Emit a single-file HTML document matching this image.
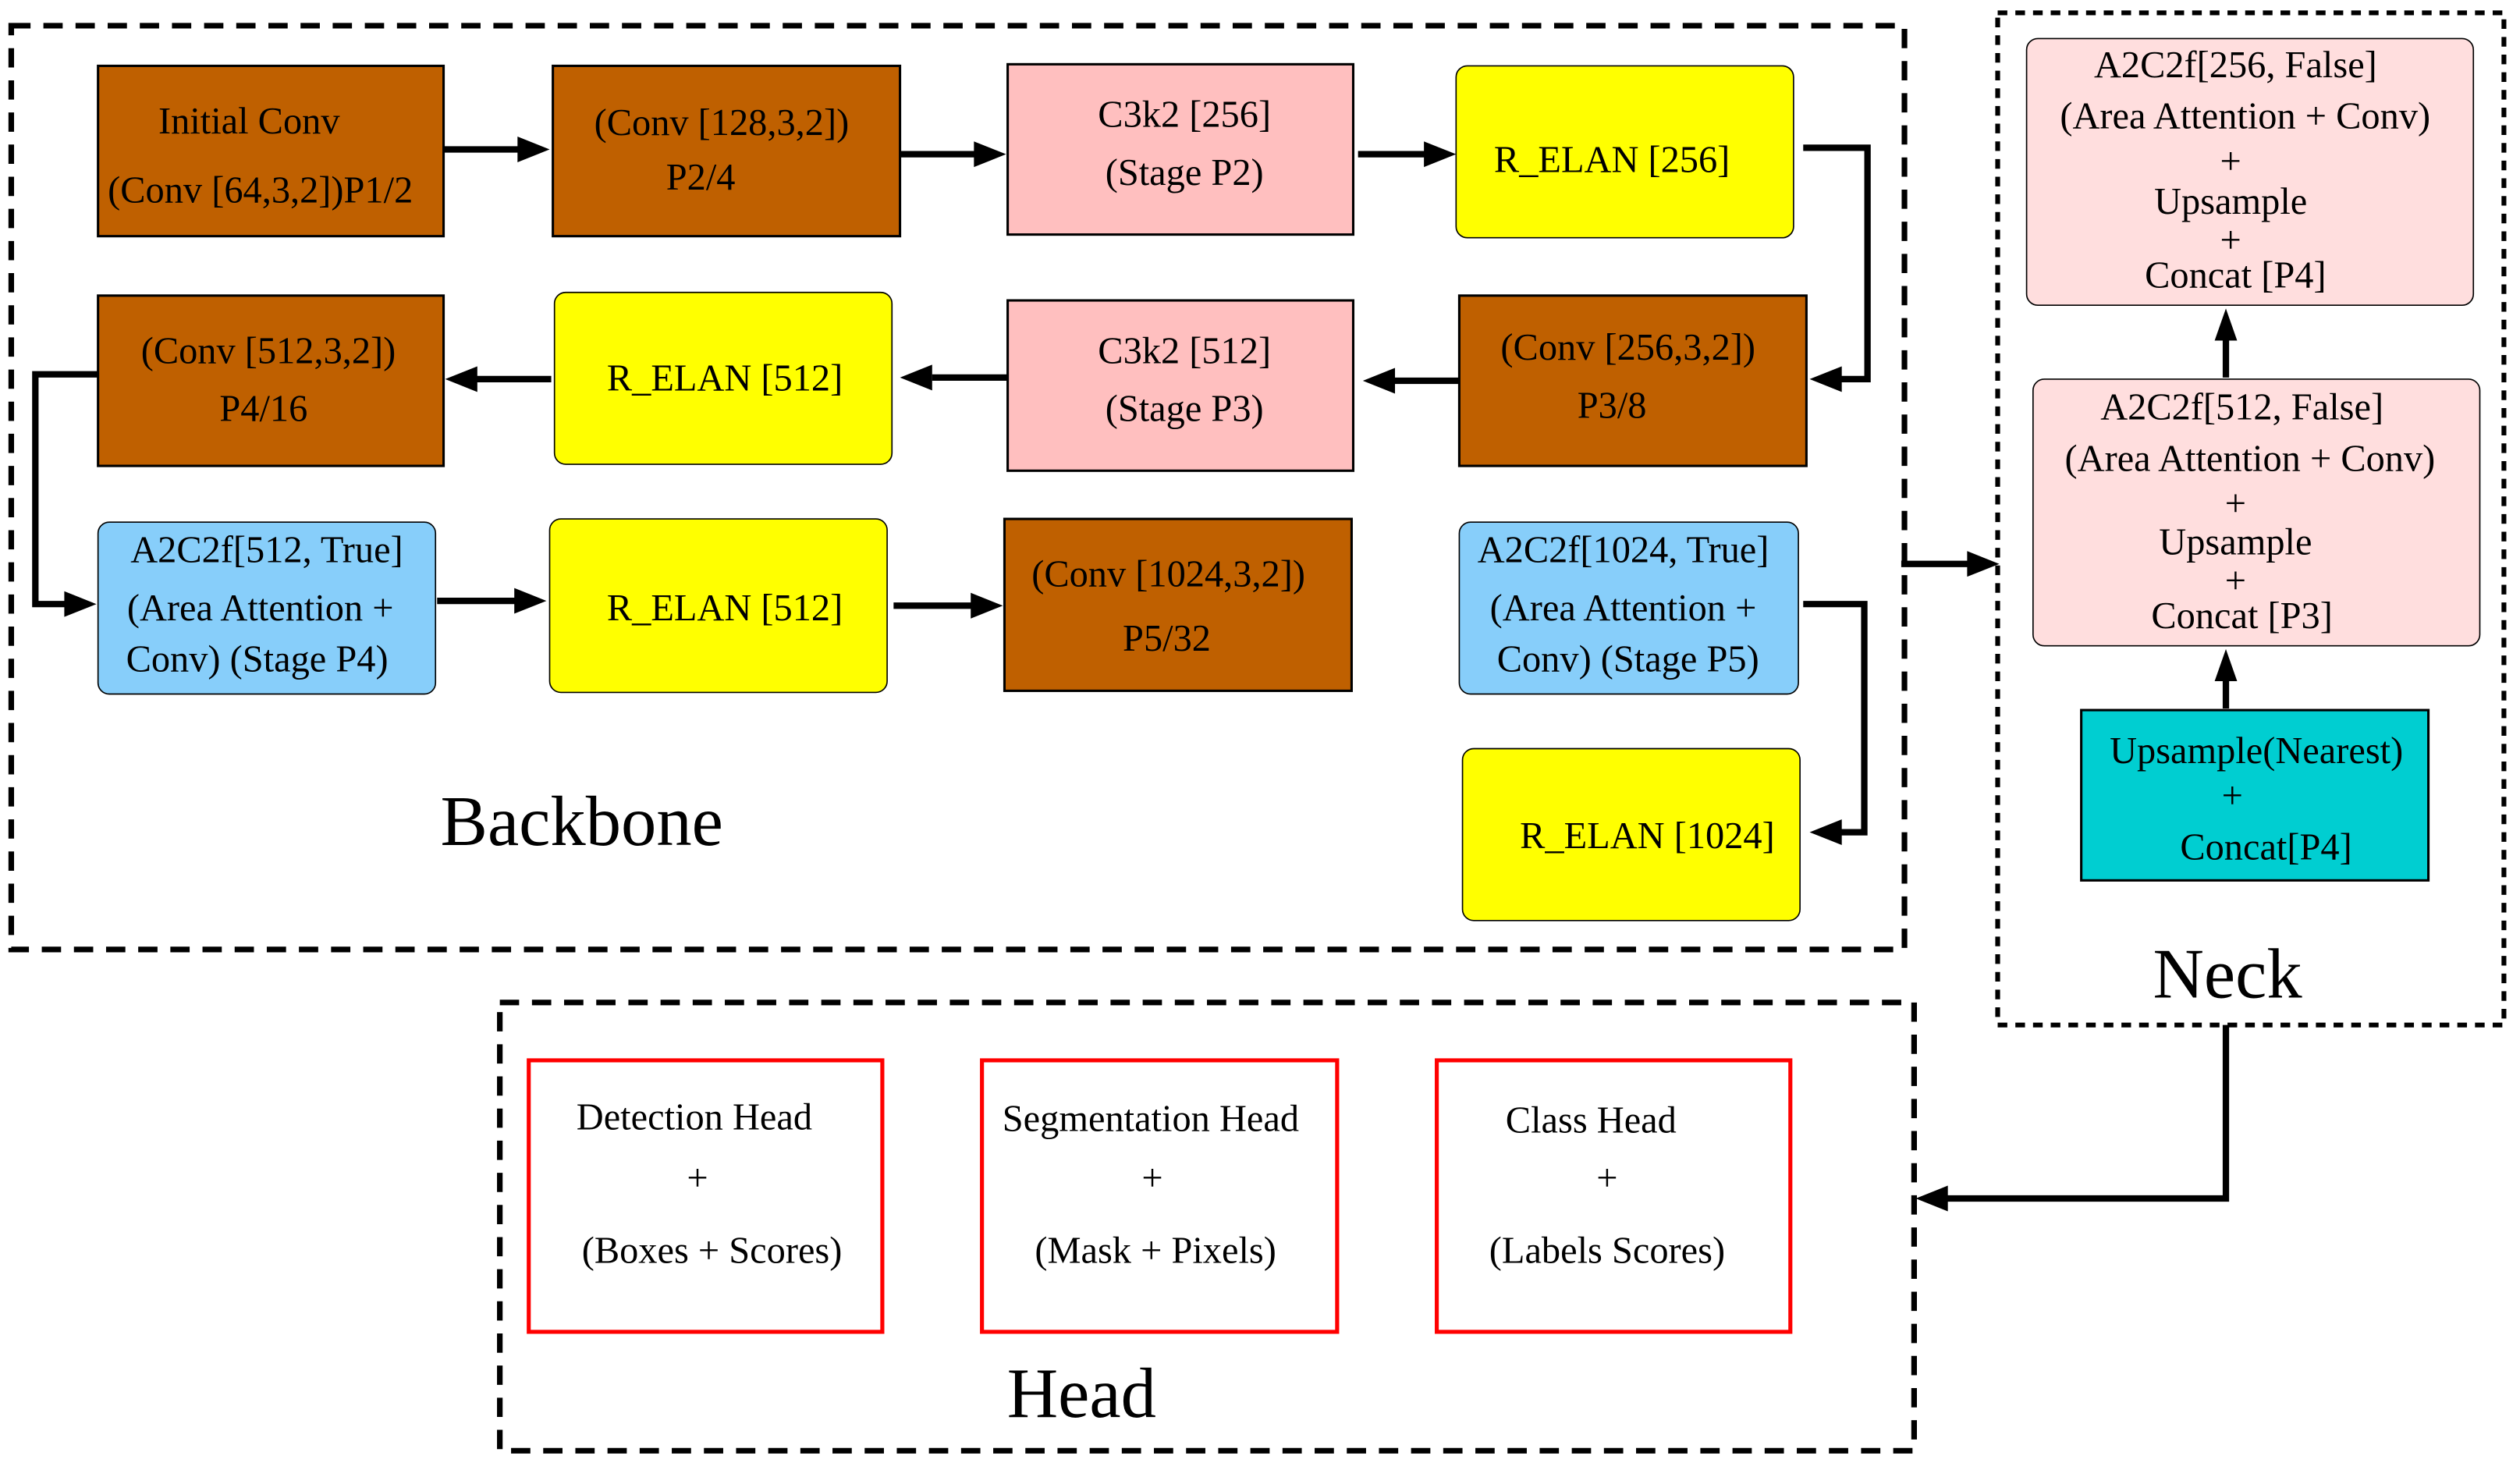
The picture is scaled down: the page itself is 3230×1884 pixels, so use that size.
<!DOCTYPE html>
<html><head><meta charset="utf-8"><style>
html,body{margin:0;padding:0;background:#fff;}
svg{display:block;}
text{font-family:"Liberation Serif",serif;fill:#000;}
</style></head><body>
<svg width="3230" height="1884" viewBox="0 0 1568 915" preserveAspectRatio="none" xmlns="http://www.w3.org/2000/svg">
<rect x="7" y="16" width="1178" height="575" fill="none" stroke="#000" stroke-width="3.5" stroke-dasharray="12,8"/>
<rect x="1243" y="8" width="315" height="630" fill="none" stroke="#000" stroke-width="3" stroke-dasharray="6,5"/>
<rect x="311" y="624" width="880" height="279" fill="none" stroke="#000" stroke-width="3.5" stroke-dasharray="12,8"/>

<g stroke="#000" stroke-width="1.5">
<rect x="61" y="41" width="215" height="106" fill="#BF6000"/>
<rect x="344" y="41" width="216" height="106" fill="#BF6000"/>
<rect x="627" y="40" width="215" height="106" fill="#FFBFBF"/>
<rect x="906" y="41" width="210" height="107" rx="7" fill="#FFFF00" stroke-width="0.8"/>
<rect x="61" y="184" width="215" height="106" fill="#BF6000"/>
<rect x="345" y="182" width="210" height="107" rx="7" fill="#FFFF00" stroke-width="0.8"/>
<rect x="627" y="187" width="215" height="106" fill="#FFBFBF"/>
<rect x="908" y="184" width="216" height="106" fill="#BF6000"/>
<rect x="61" y="325" width="210" height="107" rx="7" fill="#87CEFA" stroke-width="0.8"/>
<rect x="342" y="323" width="210" height="108" rx="7" fill="#FFFF00" stroke-width="0.8"/>
<rect x="625" y="323" width="216" height="107" fill="#BF6000"/>
<rect x="908" y="325" width="211" height="107" rx="7" fill="#87CEFA" stroke-width="0.8"/>
<rect x="910" y="466" width="210" height="107" rx="7" fill="#FFFF00" stroke-width="0.8"/>
<rect x="1261" y="24" width="278" height="166" rx="7" fill="#FFDEDE" stroke-width="0.8"/>
<rect x="1265" y="236" width="278" height="166" rx="7" fill="#FFDEDE" stroke-width="0.8"/>
<rect x="1295" y="442" width="216" height="106" fill="#00CED1"/>
</g>
<g stroke="#FF0000" stroke-width="2.5" fill="none">
<rect x="329" y="660" width="220" height="169"/>
<rect x="611" y="660" width="221" height="169"/>
<rect x="894" y="660" width="220" height="169"/>
</g>

<g stroke="#000" stroke-width="4" fill="none">
<path d="M276 93H324"/>
<path d="M560 96H608"/>
<path d="M845 96H888"/>
<path d="M1122 92H1162V236H1145"/>
<path d="M908 237H866"/>
<path d="M627 235H580"/>
<path d="M343 236H296"/>
<path d="M61 233H22V376H42"/>
<path d="M272 374H322"/>
<path d="M556 377H606"/>
<path d="M1122 376H1160V518H1144"/>
<path d="M1183 351H1226"/>
<path d="M1385 441V422"/>
<path d="M1385 235V210"/>
<path d="M1385 638V746H1210"/>
</g>
<g fill="#000">
<path d="M342 93l-20-8v16z"/>
<path d="M626 96l-20-8v16z"/>
<path d="M906 96l-20-8v16z"/>
<path d="M1126 236l20-8v16z"/>
<path d="M848 237l20-8v16z"/>
<path d="M560 235l20-8v16z"/>
<path d="M277 236l20-8v16z"/>
<path d="M60 376l-20-8v16z"/>
<path d="M340 374l-20-8v16z"/>
<path d="M624 377l-20-8v16z"/>
<path d="M1126 518l20-8v16z"/>
<path d="M1244 351l-20-8v16z"/>
<path d="M1385 404l-7 20h14z"/>
<path d="M1385 192l-7 20h14z"/>
<path d="M1192 746l20-8v16z"/>
</g>

<g font-size="23.5" text-anchor="middle">
<text x="155" y="83">Initial  Conv</text>
<text x="162" y="126">(Conv [64,3,2])P1/2</text>
<text x="449" y="84">(Conv [128,3,2])</text>
<text x="436" y="118">P2/4</text>
<text x="737" y="79">C3k2 [256]</text>
<text x="737" y="115">(Stage P2)</text>
<text x="1003" y="107">R_ELAN [256]</text>
<text x="167" y="226">(Conv [512,3,2])</text>
<text x="164" y="262">P4/16</text>
<text x="451" y="243">R_ELAN [512]</text>
<text x="737" y="226">C3k2 [512]</text>
<text x="737" y="262">(Stage P3)</text>
<text x="1013" y="224">(Conv [256,3,2])</text>
<text x="1003" y="260">P3/8</text>
<text x="166" y="350">A2C2f[512, True]</text>
<text x="162" y="386">(Area Attention +</text>
<text x="160" y="418">Conv) (Stage P4)</text>
<text x="451" y="386">R_ELAN [512]</text>
<text x="727" y="365">(Conv [1024,3,2])</text>
<text x="726" y="405">P5/32</text>
<text x="1010" y="350">A2C2f[1024, True]</text>
<text x="1010" y="386">(Area Attention +</text>
<text x="1013" y="418">Conv) (Stage P5)</text>
<text x="1025" y="528">R_ELAN [1024]</text>
<text x="1391" y="48">A2C2f[256, False]</text>
<text x="1397" y="80">(Area Attention + Conv)</text>
<text x="1388" y="108">+</text>
<text x="1388" y="133">Upsample</text>
<text x="1388" y="157">+</text>
<text x="1391" y="179">Concat [P4]</text>
<text x="1395" y="261">A2C2f[512, False]</text>
<text x="1400" y="293">(Area Attention + Conv)</text>
<text x="1391" y="321">+</text>
<text x="1391" y="345">Upsample</text>
<text x="1391" y="369">+</text>
<text x="1395" y="391">Concat [P3]</text>
<text x="1404" y="475">Upsample(Nearest)</text>
<text x="1389" y="503">+</text>
<text x="1410" y="535">Concat[P4]</text>
<text x="432" y="703">Detection Head</text>
<text x="434" y="741">+</text>
<text x="443" y="786">(Boxes + Scores)</text>
<text x="716" y="704">Segmentation Head</text>
<text x="717" y="741">+</text>
<text x="719" y="786">(Mask + Pixels)</text>
<text x="990" y="705">Class Head</text>
<text x="1000" y="741">+</text>
<text x="1000" y="786">(Labels Scores)</text>
</g>
<g font-size="44" text-anchor="middle">
<text x="362" y="526">Backbone</text>
<text x="1386" y="621">Neck</text>
<text x="673" y="882">Head</text>
</g>
</svg>
</body></html>
